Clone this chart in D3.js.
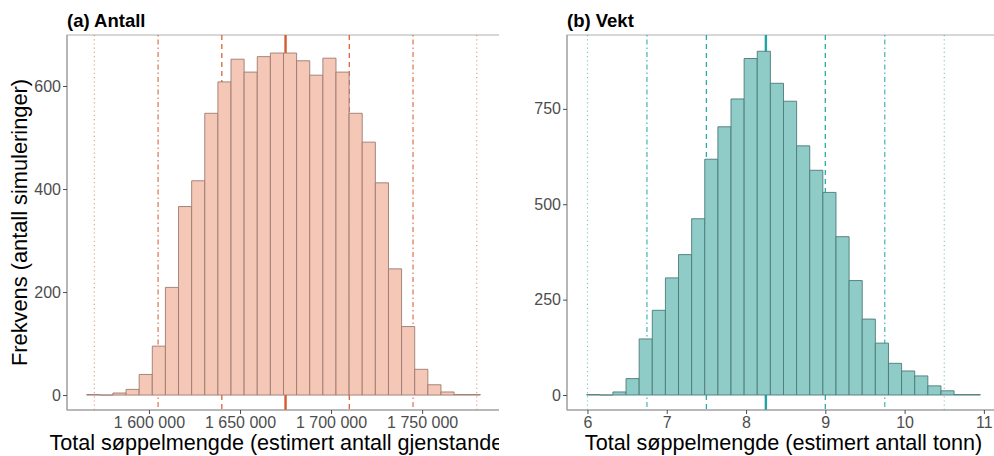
<!DOCTYPE html>
<html>
<head>
<meta charset="utf-8">
<script src="https://cdn.jsdelivr.net/npm/d3@7"></script>
<style>
  body { margin: 0; background: #fff; }
  svg text { font-family: "Liberation Sans", Arial, Helvetica, sans-serif; }
</style>
</head>
<body>
<svg id="chart" width="994" height="456"></svg>
<script>
// (a) Antall: histogram of simulated total item counts (30 bins)
const binStartAntall = 1565800;
const binWidthAntall = 7205;
const countsAntall = [1, 0, 4, 11, 40, 95, 209, 366, 416, 547, 608, 652, 627, 657, 664,
                      664, 649, 621, 654, 627, 547, 491, 412, 245, 133, 50, 20, 6, 1, 1];
const refLinesAntall = [1570000, 1605000, 1640000, 1675000, 1710000, 1745000, 1780000];
const xTicksAntall = [1600000, 1650000, 1700000, 1750000];
const yTicksAntall = [0, 200, 400, 600];

// (b) Vekt: histogram of simulated total weight in tonnes (30 bins)
const binStartVekt = 5.99;
const binWidthVekt = 0.1655;
const countsVekt = [1, 0, 8, 43, 147, 222, 307, 368, 462, 618, 703, 776, 882, 901, 817,
                    770, 653, 589, 531, 415, 300, 199, 136, 83, 63, 50, 24, 11, 1, 1];
const refLinesVekt = [6.0, 6.75, 7.5, 8.25, 9.0, 9.75, 10.5];
const xTicksVekt = [6, 7, 8, 9, 10, 11];
const yTicksVekt = [0, 250, 500, 750];

// line type for each reference line (mean in the middle, ±1, ±2, ±3 SD outward)
const refLineTypes = ["dotted", "dotdash", "dashed", "solid", "dashed", "dotdash", "dotted"];

const lineStyle = {
  solid:   { width: 2.4, dash: null,         opacity: 1 },
  dashed:  { width: 1.3, dash: "5,4",        opacity: 0.95 },
  dotdash: { width: 1.2, dash: "1.5,3,5,3",  opacity: 0.85 },
  dotted:  { width: 1.1, dash: "1.2,3",      opacity: 0.6 }
};

const fmtSpace = d3.formatLocale({ decimal: ",", thousands: "\u00a0", grouping: [3], currency: ["", ""] }).format(",d");

const svg = d3.select("#chart");

svg.append("defs").append("clipPath").attr("id", "clip-left")
  .append("rect").attr("x", 0).attr("y", 0).attr("width", 499).attr("height", 456);

function drawPanel(cfg) {
  const g = svg.append("g").attr("clip-path", cfg.clip ? `url(#${cfg.clip})` : null);
  const { x0, x1, y0, y1 } = cfg.box;

  const binEnd = cfg.binStart + cfg.binWidth * cfg.counts.length;
  const pad = 0.05 * (binEnd - cfg.binStart);
  const x = d3.scaleLinear().domain([cfg.binStart - pad, binEnd + pad]).range([x0, x1]);
  const y = d3.scaleLinear().domain(cfg.yDomain).range([y1, y0]);

  // panel border
  g.append("rect")
    .attr("x", x0).attr("y", y0).attr("width", x1 - x0).attr("height", y1 - y0)
    .attr("fill", "#fff").attr("stroke", "#b0b0b0").attr("stroke-width", 1);

  // reference lines (mean ± k·SD), behind the bars
  g.append("g").selectAll("line")
    .data(cfg.refLines.map((v, i) => ({ v, type: refLineTypes[i] })))
    .join("line")
    .attr("x1", d => x(d.v)).attr("x2", d => x(d.v))
    .attr("y1", y0).attr("y2", y1)
    .attr("stroke", cfg.lineColor)
    .attr("stroke-opacity", d => lineStyle[d.type].opacity)
    .attr("stroke-width", d => lineStyle[d.type].width)
    .attr("stroke-dasharray", d => lineStyle[d.type].dash);

  // histogram bars (as paths so empty bins still show their outline)
  g.append("g").selectAll("path")
    .data(cfg.counts.map((c, i) => ({ c, a: cfg.binStart + i * cfg.binWidth, b: cfg.binStart + (i + 1) * cfg.binWidth })))
    .join("path")
    .attr("d", d => `M${x(d.a)},${y(0)}V${y(d.c)}H${x(d.b)}V${y(0)}Z`)
    .attr("fill", cfg.fill)
    .attr("stroke", cfg.stroke)
    .attr("stroke-width", 0.9);

  // axes
  const xAxis = d3.axisBottom(x).tickValues(cfg.xTicks).tickFormat(cfg.xFormat).tickSize(4).tickPadding(3);
  const gx = g.append("g").attr("transform", `translate(0,${y1})`).call(xAxis);
  const yAxis = d3.axisLeft(y).tickValues(cfg.yTicks).tickFormat(d3.format("d")).tickSize(4).tickPadding(2);
  const gy = g.append("g").attr("transform", `translate(${x0},0)`).call(yAxis);
  [gx, gy].forEach(a => {
    a.select(".domain").attr("stroke", "#9a9a9a").attr("stroke-width", 1.1);
    a.selectAll(".tick line").attr("stroke", "#4d4d4d").attr("stroke-width", 1);
    a.selectAll(".tick text").attr("fill", "#4d4d4d").style("font-size", "16px");
  });
  gx.select(".domain").attr("d", `M${x0},0H${x1}`);
  gy.select(".domain").attr("d", `M0,${y0}V${y1}`);
  gx.selectAll(".tick text").attr("dy", "0.71em");

  // panel title
  g.append("text")
    .attr("x", x0).attr("y", 27)
    .style("font-weight", "bold").style("font-size", "18.5px")
    .attr("fill", "#000")
    .text(cfg.title);

  // x axis title
  g.append("text")
    .attr("x", (x0 + x1) / 2).attr("y", 450)
    .attr("text-anchor", "middle")
    .style("font-size", "21.6px").attr("fill", "#000")
    .text(cfg.xTitle);

  if (cfg.yTitle) {
    g.append("text")
      .attr("transform", `translate(27,${(y0 + y1) / 2}) rotate(-90)`)
      .attr("text-anchor", "middle")
      .style("font-size", "21.8px").attr("fill", "#000")
      .text(cfg.yTitle);
  }
}

drawPanel({
  box: { x0: 67, x1: 500, y0: 35, y1: 410 },
  clip: "clip-left",
  binStart: binStartAntall, binWidth: binWidthAntall, counts: countsAntall,
  refLines: refLinesAntall, xTicks: xTicksAntall, yTicks: yTicksAntall,
  yDomain: [-29, 699],
  xFormat: fmtSpace,
  fill: "#f5c7b7", stroke: "#9c7b72", lineColor: "#d85a2c",
  title: "(a) Antall",
  xTitle: "Total søppelmengde (estimert antall gjenstander)",
  yTitle: "Frekvens (antall simuleringer)"
});

drawPanel({
  box: { x0: 567, x1: 1000, y0: 35, y1: 410 },
  binStart: binStartVekt, binWidth: binWidthVekt, counts: countsVekt,
  refLines: refLinesVekt, xTicks: xTicksVekt, yTicks: yTicksVekt,
  yDomain: [-39.3, 943.6],
  xFormat: d3.format("d"),
  fill: "#8fcbc7", stroke: "#4b7c79", lineColor: "#1ea6a4",
  title: "(b) Vekt",
  xTitle: "Total søppelmengde (estimert antall tonn)"
});
</script>
</body>
</html>
